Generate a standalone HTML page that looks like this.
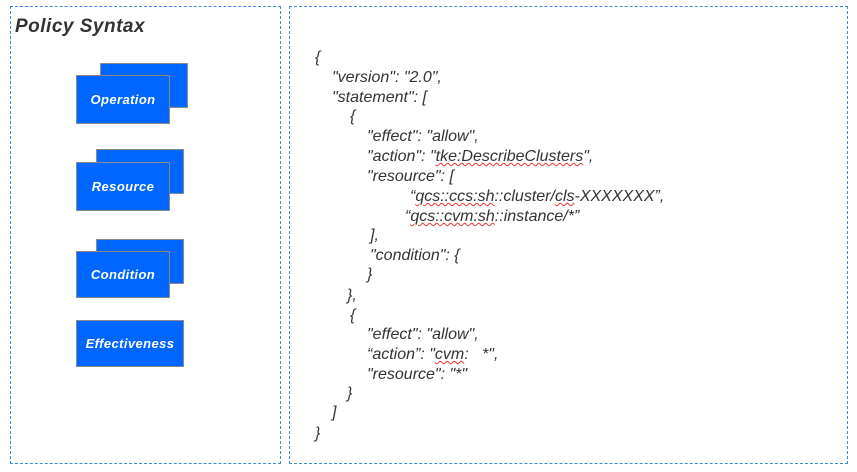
<html><head><style>
body{margin:0;width:857px;height:472px;background:#fff;position:relative;font-family:"Liberation Sans",sans-serif;overflow:hidden}
.d{position:absolute;border:1px dashed #3a8ad6;box-sizing:border-box}
.b{position:absolute;background:#0066ff;border:1.5px solid #8a8a8a;box-sizing:border-box;color:#fff;font-style:italic;font-weight:bold;font-size:13px;display:flex;align-items:center;justify-content:center;letter-spacing:0.4px}
.t{position:absolute;font-style:italic;font-size:16px;color:#333;white-space:pre;line-height:20px}
u{text-decoration:underline wavy #e33;text-decoration-thickness:1px}
</style></head><body>
<div class="d" style="left:10px;top:6px;width:271px;height:458px"></div>
<div class="d" style="left:289px;top:6px;width:559px;height:458px"></div>
<div style="position:absolute;left:15px;top:16px;font-size:19px;font-weight:bold;font-style:italic;color:#333;letter-spacing:0.5px">Policy Syntax</div>
<div class="b" style="left:100px;top:63px;width:88px;height:45px"></div>
<div class="b" style="left:76px;top:75px;width:94px;height:49px">Operation</div>
<div class="b" style="left:96px;top:149px;width:88px;height:45px"></div>
<div class="b" style="left:76px;top:162px;width:94px;height:49px">Resource</div>
<div class="b" style="left:96px;top:239px;width:88px;height:45px"></div>
<div class="b" style="left:76px;top:251px;width:94px;height:47px">Condition</div>
<div class="b" style="left:76px;top:320px;width:108px;height:47px">Effectiveness</div>
<div class="t" style="left:315px;top:48px">{</div>
<div class="t" style="left:332px;top:68px">"version": "2.0",</div>
<div class="t" style="left:332px;top:88px">"statement": [</div>
<div class="t" style="left:350px;top:107px">{</div>
<div class="t" style="left:367px;top:127px">"effect": "allow",</div>
<div class="t" style="left:367px;top:147px">"action": "<u>tke:DescribeClusters</u>",</div>
<div class="t" style="left:367px;top:167px">"resource": [</div>
<div class="t" style="left:410px;top:187px">“<u>qcs::ccs:sh</u>::cluster/<u>cls</u>-XXXXXXX”,</div>
<div class="t" style="left:405px;top:207px">“<u>qcs::cvm:sh</u>::instance/*”</div>
<div class="t" style="left:370px;top:226px">],</div>
<div class="t" style="left:370px;top:246px">"condition": {</div>
<div class="t" style="left:367px;top:265px">}</div>
<div class="t" style="left:347px;top:286px">},</div>
<div class="t" style="left:350px;top:306px">{</div>
<div class="t" style="left:367px;top:325px">"effect": "allow",</div>
<div class="t" style="left:367px;top:345px">“action”: "<u>cvm</u>:   *",</div>
<div class="t" style="left:367px;top:365px">"resource": "*"</div>
<div class="t" style="left:347px;top:384px">}</div>
<div class="t" style="left:332px;top:403px">]</div>
<div class="t" style="left:315px;top:424px">}</div>
</body></html>
